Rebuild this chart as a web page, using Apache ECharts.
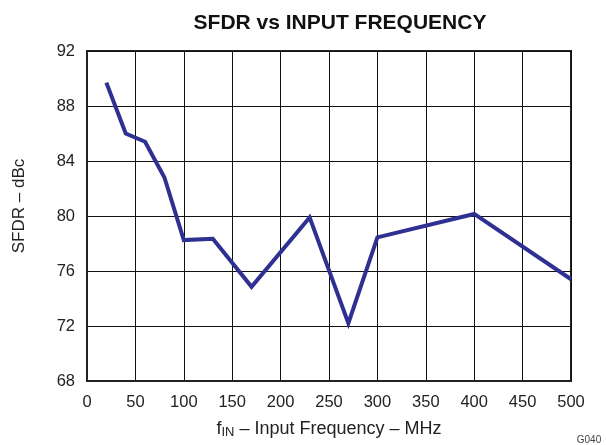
<!DOCTYPE html>
<html>
<head>
<meta charset="utf-8">
<script src="https://cdn.jsdelivr.net/npm/echarts@6/dist/echarts.min.js"></script>
<style>
  html, body { margin: 0; padding: 0; background: #fff; }
  #chart { width: 606px; height: 445px; }
</style>
</head>
<body>
<div id="chart"></div>
<script>
// Input frequency (MHz) and measured SFDR (dBc)
const freqMHz = [20, 40, 60, 80, 100, 130, 170, 230, 270, 300, 400, 500];
const sfdrDbc = [89.7, 86.0, 85.4, 82.8, 78.25, 78.35, 74.85, 79.9, 72.2, 78.45, 80.15, 75.4];

const xTicks = { min: 0, max: 500, step: 50 };
const yTicks = { min: 68, max: 92, step: 4 };

const FONT = '"Liberation Sans", Arial, sans-serif';

const chart = echarts.init(document.getElementById('chart'), null, { renderer: 'canvas' });

chart.setOption({
  backgroundColor: '#ffffff',
  animation: false,
  title: {
    text: 'SFDR vs INPUT FREQUENCY',
    left: 335,
    top: 8,
    textAlign: 'center',
    textStyle: { fontFamily: FONT, fontWeight: 'bold', fontSize: 21, color: '#111' }
  },
  grid: {
    left: 87, right: 35, top: 51, bottom: 64,
    show: true, borderColor: '#222', borderWidth: 2, backgroundColor: 'transparent'
  },
  xAxis: {
    type: 'value',
    min: xTicks.min, max: xTicks.max, interval: xTicks.step,
    axisLine: { show: true, lineStyle: { color: '#222', width: 2 } },
    axisTick: { show: false },
    axisLabel: { fontFamily: FONT, fontSize: 16.5, color: '#222', margin: 13 },
    splitLine: { show: true, lineStyle: { color: '#111', width: 1 } },
    name: '{f|f}{sub|IN}{t| – Input Frequency – MHz}',
    nameLocation: 'middle',
    nameGap: 38,
    nameTextStyle: {
      rich: {
        f: { fontFamily: FONT, fontSize: 18, color: '#222' },
        sub: { fontFamily: FONT, fontSize: 13, color: '#222', verticalAlign: 'bottom', padding: [7, 0, 0, 0] },
        t: { fontFamily: FONT, fontSize: 18, color: '#222' }
      }
    }
  },
  yAxis: {
    type: 'value',
    min: yTicks.min, max: yTicks.max, interval: yTicks.step,
    axisLine: { show: true, lineStyle: { color: '#222', width: 2 } },
    axisTick: { show: false },
    axisLabel: { fontFamily: FONT, fontSize: 16.5, color: '#222', margin: 12 },
    splitLine: { show: true, lineStyle: { color: '#111', width: 1 } }
  },
  graphic: [
    {
      type: 'text',
      x: 19, y: 206,
      rotation: Math.PI / 2,
      style: {
        text: 'SFDR – dBc',
        fontFamily: FONT, fontSize: 17, fill: '#222',
        align: 'center', verticalAlign: 'middle'
      }
    },
    {
      type: 'text',
      x: 589, y: 440,
      style: {
        text: 'G040',
        fontFamily: FONT, fontSize: 10, fill: '#444',
        align: 'center', verticalAlign: 'middle'
      }
    }
  ],
  series: [{
    type: 'line',
    data: freqMHz.map((f, i) => [f, sfdrDbc[i]]),
    showSymbol: false,
    lineStyle: { color: '#2e3192', width: 4, join: 'miter' },
    z: 5
  }]
});
</script>
</body>
</html>
